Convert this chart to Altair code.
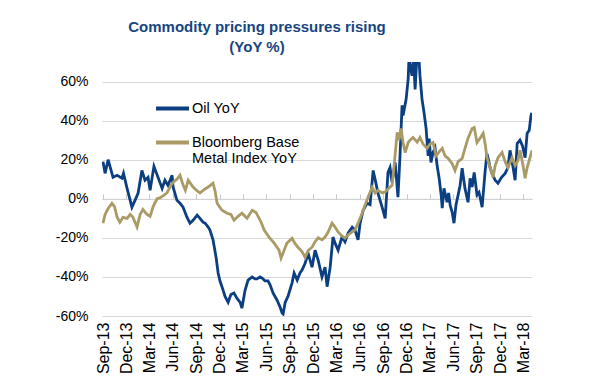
import altair as alt
import pandas as pd

START = "2013-09-01"

# Oil YoY (%), sampled at day offsets from START
oil_days = [0, 8, 20, 39, 55, 74, 80, 94, 113, 125, 137, 152, 164, 176, 184, 199, 215, 231, 242, 254,
            270, 274, 289, 301, 313, 328, 340, 352, 368, 379, 391, 399, 411, 418, 430, 442, 450, 457,
            465, 477, 489, 500, 512, 524, 536, 543, 555, 567, 583, 594, 602, 614, 622, 633, 645, 653,
            665, 680, 692, 700, 704, 712, 723, 739, 747, 759, 770, 778, 790, 802, 817, 829, 841, 856,
            868, 876, 888, 899, 907, 919, 934, 946, 958, 974, 985, 997, 1005, 1017, 1032, 1044, 1056,
            1067, 1075, 1091, 1103, 1114, 1122, 1130, 1142, 1153, 1161, 1169, 1173, 1185, 1193, 1196,
            1208, 1214, 1220, 1228, 1235, 1239, 1247, 1255, 1263, 1271, 1275, 1282, 1290, 1298, 1306,
            1314, 1322, 1326, 1333, 1345, 1351, 1357, 1365, 1372, 1380, 1388, 1396, 1404, 1415, 1427,
            1435, 1443, 1451, 1462, 1470, 1474, 1482, 1494, 1501, 1507, 1513, 1521, 1533, 1544, 1558,
            1572, 1583, 1591, 1603, 1611, 1619, 1630, 1640, 1650, 1658, 1666, 1673, 1676]
oil_vals = [19, 13, 20, 11, 12, 10.5, 13, 5.3, -4.3, -0.8, 2.8, 14.5, 9.5, 11, 4.3, 16.6, 11, 5.3, 9.5, 6.9,
            12, 5.9, -0.8, -2.3, -4.3, -9.4, -12.5, -11, -8.4, -10, -12, -12.5, -14.5, -16, -21, -30, -38, -42,
            -45, -50, -53, -49, -48.3, -51, -53, -56, -47, -41.6, -40, -41, -41, -40, -40.6, -42, -42, -44,
            -48.3, -51.8, -55.4, -58.5, -59, -53, -50, -43, -38, -41.6, -38, -36.5, -33, -28, -35, -26.3, -31.4, -40,
            -35, -45, -35, -19.6, -22.7, -26.3, -19.6, -22, -17.6, -14.5, -16, -21, -12.5, -5.9, -2.3, -3, 14.5,
            7.9, 2.8, -4.3, -10, 13.5, 16, 8.4, 18.6, 0.8, 22, 47.8, 42.6, 51, 61.5, 72,
            63, 72, 56, 75, 72, 63, 51, 44, 36, 22, 30.8, 18.6, 23.7, 26, 17,
            10.5, 1.8, -4.8, 5.3, -1.8, 3, -3.3, -6.9, -12.5, -3, 1.8, 6.9, 15.6, 5.3, -1.8,
            10.5, 6, 13.5, 2, 3.3, 0.8, -4.3, 14.5, 23, 20, 16, 13, 9.5, 8, 11,
            13, 16, 24.8, 16, 9.5, 28.3, 30, 27, 21, 33.5, 35, 42.6, 44]

# Bloomberg Base Metal Index YoY (%)
metal_days = [0, 8, 20, 35, 45, 55, 66, 78, 94, 106, 117, 133, 145, 156, 172, 184, 196, 211, 223, 235,
              250, 262, 274, 289, 301, 313, 322, 333, 352, 368, 379, 399, 411, 430, 438, 446, 465, 485,
              500, 512, 528, 543, 563, 583, 598, 618, 630, 649, 669, 688, 696, 708, 719, 739, 751, 762,
              778, 790, 802, 817, 829, 841, 856, 868, 880, 895, 907, 919, 934, 946, 958, 974, 985, 997,
              1013, 1024, 1036, 1052, 1064, 1075, 1091, 1103, 1114, 1130, 1138, 1150, 1157, 1165, 1173,
              1181, 1193, 1200, 1212, 1228, 1239, 1251, 1267, 1278, 1290, 1302, 1314, 1326, 1337, 1349,
              1365, 1376, 1388, 1404, 1415, 1427, 1443, 1451, 1462, 1474, 1486, 1494, 1501, 1513, 1525,
              1533, 1544, 1560, 1572, 1583, 1599, 1611, 1622, 1630, 1642, 1650, 1658, 1669, 1677]
metal_vals = [-12.5, -8, -5, -2.3, -4, -9.4, -12, -9.5, -10, -8, -9.5, -14.5, -8, -5.5, -8, -9, -4, 0, 0.5, 1.5,
              3, 6, 8.5, 10, 12, 7, 4.3, 9.5, 6, 4, 3, 5, 6, 8, 4, -2.3, -5.9, -7.4,
              -8, -11, -9, -7.4, -10, -5.9, -7, -12, -16, -19.6, -22.7, -26.3, -30.4, -26.3, -22.7, -20.2, -23, -24.8,
              -27, -30, -26.5, -24.8, -22, -20, -21, -19.6, -17, -12.5, -14.5, -17, -19, -20.2, -18.5, -17, -16, -12.5,
              -7.4, -3.3, 0.8, 5.9, 3, 4.3, 3, 3.5, 5, 6.9, 17, 34, 30, 36, 28.8,
              23.7, 28.8, 30, 31.4, 29, 31.4, 28, 25.8, 28, 28.8, 22, 24, 25.8, 22, 20.7,
              18, 14.5, 19, 20.7, 25.8, 31, 36, 36.5, 28.8, 31, 33.5, 28, 21, 16, 11,
              17, 21, 23.7, 19, 16, 21, 17, 19.6, 24.8, 17, 10.5, 16, 21, 24.8]

series_names = ["Oil YoY", "Bloomberg Base Metal Index YoY"]
series_colors = ["#0B3F82", "#A99A66"]

tick_dates = ["2013-09-01", "2013-12-01", "2014-03-01", "2014-06-01", "2014-09-01", "2014-12-01",
              "2015-03-01", "2015-06-01", "2015-09-01", "2015-12-01", "2016-03-01", "2016-06-01",
              "2016-09-01", "2016-12-01", "2017-03-01", "2017-06-01", "2017-09-01", "2017-12-01",
              "2018-03-01"]
y_ticks = [-60, -40, -20, 0, 20, 40, 60]
title_lines = ["Commodity pricing pressures rising", "(YoY %)"]


def to_dates(days):
    base = pd.Timestamp(START)
    return [(base + pd.Timedelta(days=int(d))).strftime("%Y-%m-%dT00:00:00Z") for d in days]


def dt(s):
    y, m, d = (int(p) for p in s.split("-"))
    return alt.DateTime(year=y, month=m, date=d, utc=True)


df = pd.concat([
    pd.DataFrame({"date": to_dates(oil_days), "value": oil_vals, "series": series_names[0]}),
    pd.DataFrame({"date": to_dates(metal_days), "value": metal_vals, "series": series_names[1]}),
], ignore_index=True)

FONT = "Liberation Sans"
x_scale = alt.Scale(type="utc", domain=[dt("2013-08-28"), dt("2018-04-05")])
y_scale = alt.Scale(domain=[-60, 70], nice=False, zero=False)
tick_values = [dt(s) for s in tick_dates]

color = alt.Color(
    "series:N",
    scale=alt.Scale(domain=series_names, range=series_colors),
    legend=alt.Legend(
        title=None, orient="none", legendX=52, legendY=28, direction="vertical",
        symbolType="stroke", symbolSize=1089, symbolStrokeWidth=4,
        labelFontSize=14.5, labelFont=FONT, labelColor="#000000", labelLimit=400,
        labelOffset=1, padding=0, rowPadding=7,
        labelExpr="datum.label == 'Bloomberg Base Metal Index YoY' ? ['Bloomberg Base', 'Metal Index YoY'] : datum.label",
    ),
)

y_enc = alt.Y(
    "value:Q", scale=y_scale,
    axis=alt.Axis(values=y_ticks, labelExpr="datum.value + '%'", grid=True, gridColor="#D9D9D9",
                  gridWidth=1, domain=False, ticks=False, labelPadding=14, labelFontSize=14,
                  labelFont=FONT, labelColor="#000000", title=None),
)

base = alt.Chart(df)

oil = base.transform_filter(alt.datum.series == series_names[0]).mark_line(
    strokeWidth=2.8, clip=True
).encode(
    x=alt.X("date:T", scale=x_scale,
            axis=alt.Axis(values=tick_values, format="%b-%y", labelAngle=270, labelFontSize=16,
                          labelFont=FONT, labelColor="#000000", labelPadding=6, domain=False,
                          ticks=False, grid=False, title=None)),
    y=y_enc,
    color=color,
)

metal = base.transform_filter(alt.datum.series == series_names[1]).mark_line(
    strokeWidth=2.8, clip=True
).encode(
    x=alt.X("date:T", scale=x_scale,
            axis=alt.Axis(orient="top", offset=-136.8, values=tick_values, labels=False,
                          ticks=True, tickSize=5, tickColor="#C8C8C8", domain=True,
                          domainColor="#D0D0D0", grid=False, title=None)),
    y=y_enc,
    color=color,
)

chart = alt.layer(oil, metal).resolve_axis(x="independent").properties(
    width=430, height=254,
    autosize=alt.AutoSizeParams(type="none"),
    padding={"left": 94, "top": 54, "right": 55, "bottom": 58},
    title=alt.TitleParams(text=title_lines, fontSize=15, fontWeight="bold", color="#17457F",
                          font=FONT, anchor="middle", dx=-60, lineHeight=20, offset=7),
    background="white",
).configure(font=FONT).configure_view(stroke="transparent", strokeWidth=0)

chart.save("out.html", embed_options={"renderer": "svg", "actions": False})
